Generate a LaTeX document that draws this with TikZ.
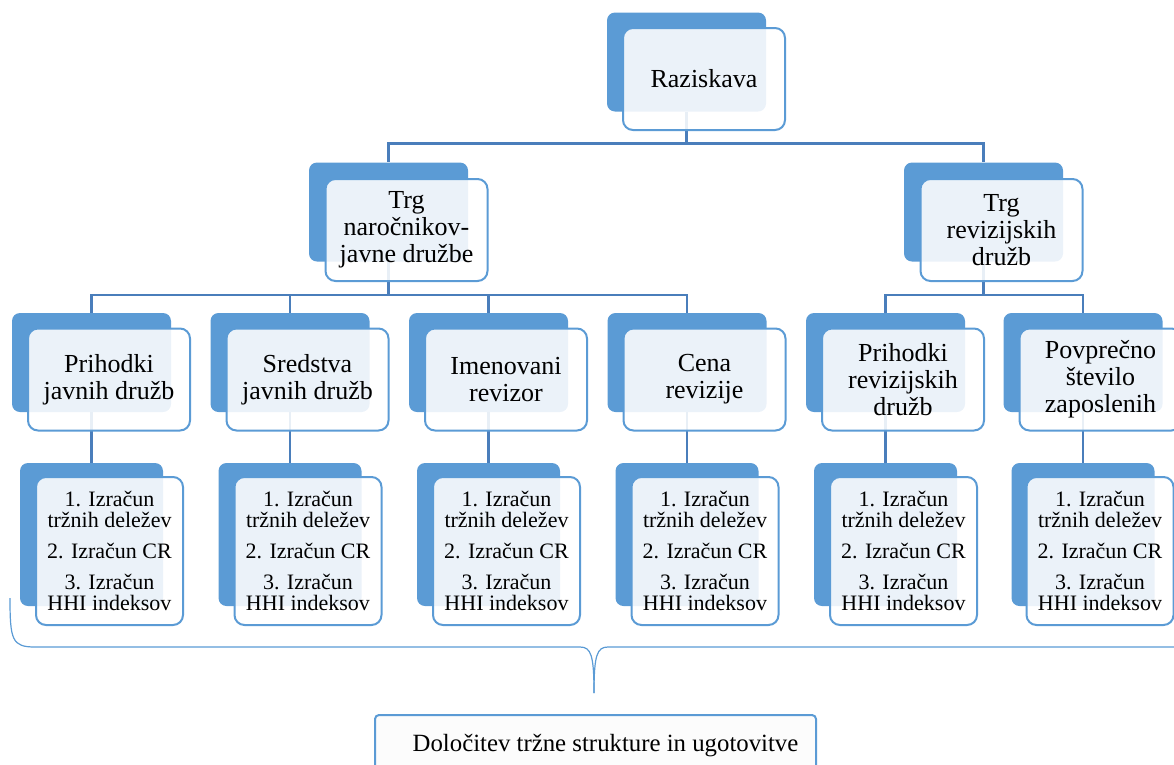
\documentclass[tikz,border=0pt]{standalone}
\usepackage{fontspec}
\setmainfont{Liberation Serif}
\usepackage{tikz}

\definecolor{boxblue}{HTML}{5B9BD5}
\definecolor{linkblue}{HTML}{4A7EBB}
\definecolor{sumfill}{HTML}{FCFCFC}

\begin{document}
\begin{tikzpicture}[x=1pt,y=-1pt,
    backbox/.style={fill=boxblue,rounded corners=8pt,inner sep=0pt,minimum width=159pt,minimum height=99pt},
    frontbox/.style={draw=boxblue,line width=2pt,fill=white,fill opacity=0.88,text opacity=1,rounded corners=10pt,inner sep=0pt,minimum width=162pt,minimum height=102pt,align=center,font=\fontsize{26}{27}\selectfont},
    listback/.style={backbox,minimum width=143pt,minimum height=143pt},
    listfront/.style={frontbox,minimum width=147pt,minimum height=148pt,font=\fontsize{22}{21}\selectfont},
    link/.style={draw=linkblue,line width=2.5pt},
    brace/.style={draw=boxblue,line width=1.2pt}]

    \useasboundingbox (0,0) rectangle (1174,764);
    \clip (0,0) rectangle (1174,764);

    % blue boxes behind
    \node[backbox]  (rb)  at (686.5, 62)   {};
    \node[backbox]  (nb)  at (388.5, 212)  {};
    \node[backbox]  (vb)  at (983.5, 212)  {};
    \node[backbox]  (p1b) at (91.5, 362.5) {};
    \node[backbox]  (p2b) at (290, 362.5)  {};
    \node[backbox]  (p3b) at (488.5, 362.5) {};
    \node[backbox]  (p4b) at (687, 362.5)  {};
    \node[backbox]  (p5b) at (885.5, 362.5) {};
    \node[backbox]  (p6b) at (1083, 362.5) {};
    \node[listback] (i1b) at (91.5, 534.5) {};
    \node[listback] (i2b) at (290, 534.5)  {};
    \node[listback] (i3b) at (488.5, 534.5) {};
    \node[listback] (i4b) at (687, 534.5)  {};
    \node[listback] (i5b) at (885.5, 534.5) {};
    \node[listback] (i6b) at (1083, 534.5) {};

    % connectors
    \draw[link] (rb.south) -- ++(0,32) -| (nb.north);
    \draw[link] (rb.south) -- ++(0,32) -| (vb.north);
    \draw[link] (nb.south) -- ++(0,33.5) -| (p1b.north);
    \draw[link] (nb.south) -- ++(0,33.5) -| (p2b.north);
    \draw[link] (nb.south) -- ++(0,33.5) -| (p3b.north);
    \draw[link] (nb.south) -- ++(0,33.5) -| (p4b.north);
    \draw[link] (vb.south) -- ++(0,33.5) -| (p5b.north);
    \draw[link] (vb.south) -- ++(0,33.5) -| (p6b.north);
    \draw[link] (p1b.south) -- (i1b.north);
    \draw[link] (p2b.south) -- (i2b.north);
    \draw[link] (p3b.south) -- (i3b.north);
    \draw[link] (p4b.south) -- (i4b.north);
    \draw[link] (p5b.south) -- (i5b.north);
    \draw[link] (p6b.south) -- (i6b.north);

    % white boxes in front
    \node[frontbox] (r)  at (704, 79)    {Raziskava};
    \node[frontbox] (n)  at (406.5, 230) {Trg\\naročnikov-\\javne družbe};
    \node[frontbox] (v)  at (1001.5, 230) {Trg\\revizijskih\\družb};
    \node[frontbox] (p1) at (109, 379.5)   {Prihodki\\javnih družb};
    \node[frontbox] (p2) at (307.5, 379.5) {Sredstva\\javnih družb};
    \node[frontbox] (p3) at (506, 379.5)   {Imenovani\\revizor};
    \node[frontbox] (p4) at (704.5, 379.5) {Cena\\revizije};
    \node[frontbox] (p5) at (903, 379.5)   {Prihodki\\revizijskih\\družb};
    \node[frontbox] (p6) at (1100.5, 379.5) {Povprečno\\število\\zaposlenih};
    \node[listfront] (i1) at (109.5, 551) {1. Izračun\\tržnih deležev\\[10pt]2. Izračun CR\\[10pt]3. Izračun\\HHI indeksov};
    \node[listfront] (i2) at (308, 551)   {1. Izračun\\tržnih deležev\\[10pt]2. Izračun CR\\[10pt]3. Izračun\\HHI indeksov};
    \node[listfront] (i3) at (506.5, 551) {1. Izračun\\tržnih deležev\\[10pt]2. Izračun CR\\[10pt]3. Izračun\\HHI indeksov};
    \node[listfront] (i4) at (705, 551)   {1. Izračun\\tržnih deležev\\[10pt]2. Izračun CR\\[10pt]3. Izračun\\HHI indeksov};
    \node[listfront] (i5) at (903.5, 551) {1. Izračun\\tržnih deležev\\[10pt]2. Izračun CR\\[10pt]3. Izračun\\HHI indeksov};
    \node[listfront] (i6) at (1100, 551)  {1. Izračun\\tržnih deležev\\[10pt]2. Izračun CR\\[10pt]3. Izračun\\HHI indeksov};

    % brace and result
    \coordinate (tip) at (594, 693);
    \draw[brace] (10,598) .. controls (10,640) and (12,647) .. (35,647) -- (580,647)
        .. controls (591,647) and (594,655) .. (tip);
    \draw[brace] (tip) .. controls (594,655) and (597,647) .. (608,647) -- (1180,647);

    \node[draw=boxblue,line width=2pt,fill=sumfill,rounded corners=4pt,inner sep=0pt,
          minimum width=441pt,minimum height=62pt,font=\fontsize{24.8}{27}\selectfont]
        (sum) at (595.5, 746) {\hspace*{20pt}Določitev tržne strukture in ugotovitve};
\end{tikzpicture}
\end{document}
